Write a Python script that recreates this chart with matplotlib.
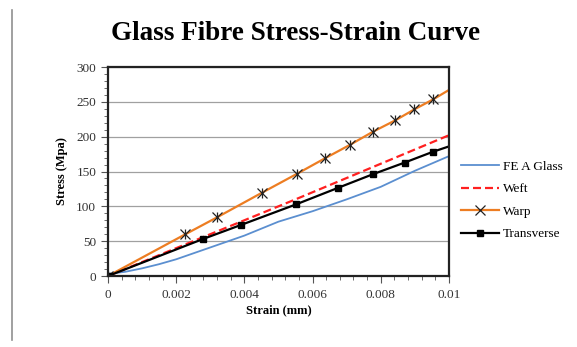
import matplotlib
matplotlib.use("Agg")
import matplotlib.pyplot as plt
from matplotlib.lines import Line2D
from matplotlib.ticker import MultipleLocator, FixedLocator, FixedFormatter

plt.rcParams['font.family'] = ['Liberation Serif', 'DejaVu Serif']

# data
fea_strain = [0, 0.0005, 0.001, 0.0015, 0.002, 0.003, 0.004, 0.005, 0.006, 0.007, 0.008, 0.009, 0.01]
fea_stress = [3, 6, 11, 17, 24, 41, 58, 78, 93, 110, 128, 151, 172]

weft_strain = [0, 0.0028, 0.0055, 0.01]
weft_stress = [0, 56, 110, 202]

warp_strain = [0, 0.00226, 0.00319, 0.00451, 0.00554, 0.00637, 0.00711, 0.00776, 0.00843, 0.00899, 0.00954, 0.01]
warp_stress = [0, 59.7, 84.0, 119.4, 146.6, 169.1, 188.6, 206.8, 223.5, 239.3, 253.6, 267]

trans_strain = [0, 0.00278, 0.00389, 0.00551, 0.00675, 0.00777, 0.0087, 0.00952, 0.01]
trans_stress = [0, 53.0, 73.1, 102.7, 126.6, 146.1, 162.8, 178.1, 186]

x_ticks = [0, 0.002, 0.004, 0.006, 0.008, 0.01]
x_labels = ['0', '0.002', '0.004', '0.006', '0.008', '0.01']
y_ticks = [0, 50, 100, 150, 200, 250, 300]

fig = plt.figure(figsize=(5.77, 3.47), dpi=100)
ax = fig.add_axes([0.1872, 0.2046, 0.5908, 0.6023])

ax.plot(fea_strain, fea_stress, color='#5b8fd0', lw=1.3, label='FE A Glass')
ax.plot(weft_strain, weft_stress, color='#ff2020', lw=1.6, ls=(0, (3.6, 1.8)), label='Weft')
ax.plot(warp_strain, warp_stress, color='#ed7d22', lw=1.6, marker='x', ms=6.5,
        mec='#222222', mew=0.9, markevery=list(range(len(warp_strain) - 1)), label='Warp')
ax.plot(trans_strain, trans_stress, color='black', lw=1.6, marker='s', ms=4.5,
        markevery=list(range(len(trans_strain) - 1)), label='Transverse')
# asterisk look: add vertical stroke on warp markers
ax.plot(warp_strain[:-1], warp_stress[:-1], ls='none', marker='|', ms=7.5, mec='#222222', mew=0.9)

ax.set_xlim(0, 0.01)
ax.set_ylim(0, 300)
ax.xaxis.set_major_locator(FixedLocator(x_ticks))
ax.xaxis.set_major_formatter(FixedFormatter(x_labels))
ax.xaxis.set_minor_locator(MultipleLocator(0.0004))
ax.yaxis.set_major_locator(FixedLocator(y_ticks))
ax.yaxis.set_minor_locator(MultipleLocator(10))

ax.grid(axis='y', color='#a0a0a0', lw=0.9)
ax.set_axisbelow(True)
ax.tick_params(which='both', direction='out', colors='#555555', labelcolor='#333333', labelsize=9.5)
ax.tick_params(which='major', length=5)
ax.tick_params(which='minor', length=3)
ax.tick_params(axis='x', pad=4)
for sp in ax.spines.values():
    sp.set_color('#222222')
    sp.set_linewidth(1.6)

ax.set_xlabel('Strain (mm)', fontsize=9, fontweight='bold', labelpad=3)
ax.set_ylabel('Stress (Mpa)', fontsize=9, fontweight='bold', labelpad=6)
fig.text(0.513, 0.903, 'Glass Fibre Stress-Strain Curve', ha='center', va='center',
         fontsize=19.5, fontweight='bold')

ax.legend(loc='center left', bbox_to_anchor=(1.0, 0.362), frameon=False, fontsize=9.5,
          handlelength=2.9, labelspacing=0.78, handletextpad=0.3, borderaxespad=0.5)

fig.add_artist(Line2D([12 / 577, 12 / 577], [1 - 10 / 347, 1 - 340 / 347],
                      color='#909090', lw=1.2))

fig.savefig('out.png', dpi=100)
